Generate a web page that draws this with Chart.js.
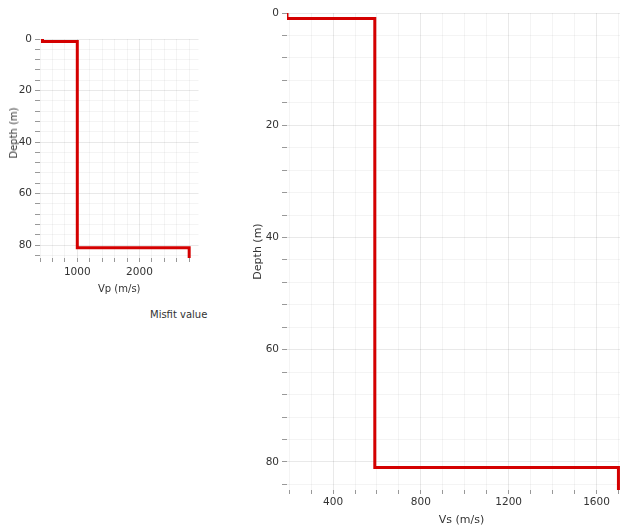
<!DOCTYPE html>
<html><head><meta charset="utf-8">
<script src="https://cdn.jsdelivr.net/npm/chart.js@4/dist/chart.umd.min.js"></script>
<style>
html,body{margin:0;padding:0;background:#fff;width:620px;height:525px;overflow:hidden;position:relative;}
#c1{position:absolute;left:0;top:0;}
#c2{position:absolute;left:240px;top:0;}
#misfit{position:absolute;left:150px;top:309px;font:10px "DejaVu Sans",sans-serif;color:#333;white-space:nowrap;}
#depth1{position:absolute;left:14px;top:133px;font:10px "DejaVu Sans",sans-serif;color:#333;white-space:nowrap;
  transform:translate(-50%,-50%) rotate(-90deg);line-height:12px;}
</style></head><body>
<canvas id="c1" width="215" height="300"></canvas>
<canvas id="c2" width="400" height="540"></canvas>
<div id="depth1">Depth (m)</div>
<div id="misfit">Misfit value</div>
<script>
// ---- data ----
const vpDepth  = [0, 1, 1, 81, 81, 85];
const vpValues = [440, 440, 1000, 1000, 2800, 2800];
const vsDepth  = [0, 1, 1, 81, 81, 85];
const vsValues = [190, 190, 590, 590, 1700, 1700];

const depthTicks  = [0,4,8,12,16,20,24,28,32,36,40,44,48,52,56,60,64,68,72,76,80,84];
const depthLabels = [0,20,40,60,80];
const vpTicks  = [400,600,800,1000,1200,1400,1600,1800,2000,2200,2400,2600,2800];
const vpLabels = [1000,2000];
const vsTicks  = [200,300,400,500,600,700,800,900,1000,1100,1200,1300,1400,1500,1600,1700];
const vsLabels = [400,800,1200,1600];

Chart.defaults.font.family = '"DejaVu Sans", sans-serif';
Chart.defaults.color = '#333';

const gridMinor = 'rgba(0,0,0,0.045)';
const gridMajor = 'rgba(0,0,0,0.085)';

function makeChart(id, depth, values, cfg) {
  const pts = depth.map((d, i) => ({x: values[i], y: d}));
  return new Chart(document.getElementById(id), {
    type: 'scatter',
    data: { datasets: [{
      data: pts, showLine: true, borderColor: '#d40000', backgroundColor: '#d40000',
      borderWidth: 3, pointRadius: 0, tension: 0, borderJoinStyle: 'miter'
    }]},
    options: {
      responsive: false, animation: false, devicePixelRatio: 1,
      layout: { padding: cfg.padding },
      plugins: { legend: {display: false}, tooltip: {enabled: false} },
      scales: {
        x: {
          type: 'linear', position: 'bottom', min: cfg.xMin, max: cfg.xMax,
          afterBuildTicks: s => { s.ticks = cfg.xTicks.map(v => ({value: v})); },
          afterFit: s => { s.height = cfg.xHeight; },
          border: {display: false},
          grid: {
            color: c => (c.tick && cfg.xLabels.includes(c.tick.value)) ? gridMajor : gridMinor,
            tickColor: '#999', tickLength: 4, drawTicks: true
          },
          ticks: {
            autoSkip: false, maxRotation: 0, padding: cfg.xTickPad,
            font: {size: 10.5}, color: '#333',
            callback: v => cfg.xLabels.includes(v) ? String(v) : ''
          },
          title: {
            display: true, text: cfg.xTitle, color: '#333',
            font: {size: cfg.titleSize}, padding: {top: 0, bottom: cfg.xTitlePad}
          }
        },
        y: {
          type: 'linear', reverse: true, min: 0, max: 85,
          afterBuildTicks: s => { s.ticks = depthTicks.map(v => ({value: v})); },
          afterFit: s => { s.width = cfg.yWidth; },
          border: {display: false},
          grid: {
            color: c => (c.tick && depthLabels.includes(c.tick.value)) ? gridMajor : gridMinor,
            tickColor: '#999', tickLength: 5
          },
          ticks: {
            autoSkip: false, padding: 3, font: {size: 10.5}, color: '#333',
            callback: v => depthLabels.includes(v) ? String(v) : ''
          },
          title: {
            display: cfg.yTitleShow, text: 'Depth (m)', color: '#333',
            font: {size: cfg.titleSize}, padding: {top: cfg.yTitlePad, bottom: 0}
          }
        }
      }
    }
  });
}

makeChart('c1', vpDepth, vpValues, {
  padding: {top: 39, right: 16.5, left: 0, bottom: 0},
  xMin: 400, xMax: 2950, xTicks: vpTicks, xLabels: vpLabels,
  xHeight: 42, yWidth: 40, xTickPad: 4, titleSize: 10,
  xTitle: 'Vp (m/s)', xTitlePad: 5, yTitlePad: 8, yTitleShow: false
});

makeChart('c2', vsDepth, vsValues, {
  padding: {top: 13, right: 4, left: 0, bottom: 0},
  xMin: 190, xMax: 1780, xTicks: vsTicks, xLabels: vsLabels,
  xHeight: 50, yWidth: 47, xTickPad: 2, titleSize: 11,
  xTitle: 'Vs (m/s)', xTitlePad: 13.4, yTitlePad: 11.4, yTitleShow: true
});
</script>
</body></html>
